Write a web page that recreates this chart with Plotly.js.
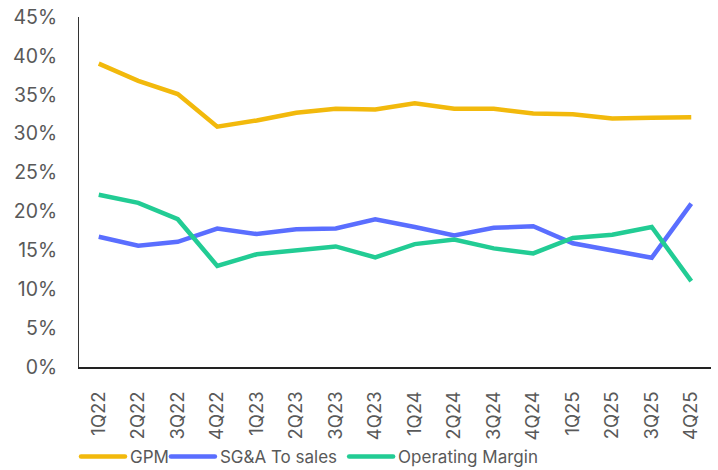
<!DOCTYPE html>
<html>
<head>
<meta charset="utf-8">
<script src="https://cdn.plot.ly/plotly-3.0.1.min.js"></script>
<style>html,body{margin:0;padding:0;background:#fff;}#chart{width:718px;height:470px;}</style>
</head>
<body>
<div id="chart"></div>
<script>
const quarters = ["1Q22","2Q22","3Q22","4Q22","1Q23","2Q23","3Q23","4Q23","1Q24","2Q24","3Q24","4Q24","1Q25","2Q25","3Q25","4Q25"];
const gpm = [39.0,36.8,35.1,30.9,31.7,32.7,33.2,33.1,33.9,33.2,33.2,32.6,32.5,31.95,32.05,32.1];
const sgaToSales = [16.75,15.6,16.1,17.8,17.1,17.7,17.8,19.0,18.0,16.9,17.9,18.1,15.9,15.0,14.05,21.0];
const operatingMargin = [22.15,21.1,19.0,13.0,14.5,15.0,15.5,14.1,15.8,16.4,15.25,14.6,16.6,17.0,18.0,11.05];
const yTicks = [0,5,10,15,20,25,30,35,40,45];

const seriesNames = ["GPM","SG&A To sales","Operating Margin"];
const seriesColors = ["#F2B90C","#5A6EFF","#22CC94"];
const seriesValues = [gpm, sgaToSales, operatingMargin];

const traces = seriesValues.map((vals, i) => ({
  type: "scatter",
  mode: "lines",
  name: seriesNames[i],
  x: quarters,
  y: vals.map(v => v / 100),
  line: {color: seriesColors[i], width: 4.5, shape: "linear"},
  hoverinfo: "skip"
}));

const fam = "Inter, 'Noto Sans', sans-serif";

const layout = {
  width: 718, height: 470,
  margin: {l: 79, r: 7, t: 17, b: 103, autoexpand: false},
  paper_bgcolor: "#fff", plot_bgcolor: "#fff",
  font: {family: fam, color: "#595959", size: 17},
  showlegend: true,
  legend: {orientation: "h", xref: "container", x: 82 / 718, xanchor: "left",
           yref: "container", y: 13 / 470, yanchor: "middle", bgcolor: "rgba(0,0,0,0)",
           font: {family: fam, color: "#595959", size: 17}, itemwidth: 30, tracegroupgap: 0},
  xaxis: {
    type: "category", range: [-0.5, quarters.length - 0.5], automargin: false,
    tickangle: -90, showgrid: false, zeroline: false,
    showline: true, linecolor: "#222", linewidth: 2, ticks: "", ticklabelstandoff: 15,
    tickfont: {family: fam, color: "#595959", size: 18.5}
  },
  yaxis: {
    range: [0, 0.45], tickvals: yTicks.map(v => v / 100), automargin: false,
    tickformat: ".0%", showgrid: false, zeroline: false,
    showline: true, linecolor: "#333", linewidth: 1, ticks: "", ticklabelstandoff: 17,
    tickfont: {family: fam, color: "#595959", size: 19.5}
  }
};

const legendShift = [0, 6, 22];

Plotly.newPlot("chart", traces, layout, {displayModeBar: false, staticPlot: true}).then(() => {
  document.querySelectorAll("#chart .legend [clip-path]").forEach(el => el.removeAttribute("clip-path"));
  const groups = document.querySelectorAll("#chart .legend .traces");
  groups.forEach((g, i) => {
    const m = /translate\(([-\d.]+)[ ,]+([-\d.]+)\)/.exec(g.getAttribute("transform") || "");
    if (m) g.setAttribute("transform", "translate(" + (parseFloat(m[1]) + (legendShift[i] || 0)) + "," + m[2] + ")");
    const p = g.querySelector(".legendlines path");
    if (p) { p.setAttribute("d", "M-1,0h44"); p.style.strokeLinecap = "round"; }
    const t = g.querySelector("text.legendtext");
    if (t) t.setAttribute("x", 48);
  });
});
</script>
</body>
</html>
